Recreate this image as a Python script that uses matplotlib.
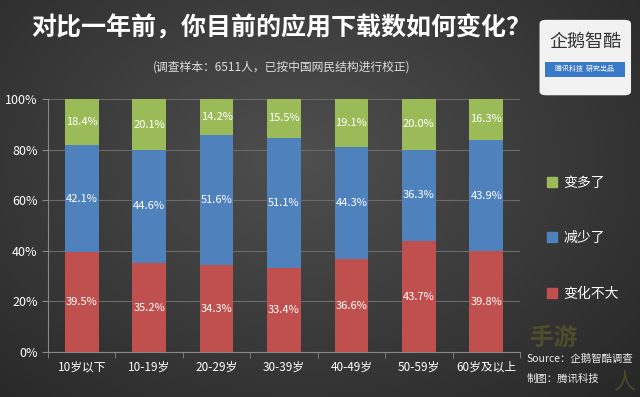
import numpy as np
import matplotlib.pyplot as plt
from matplotlib.patches import FancyBboxPatch, Rectangle

plt.rcParams['font.family'] = ['Noto Sans CJK SC', 'DejaVu Sans']

# Data
categories = ['10岁以下', '10-19岁', '20-29岁', '30-39岁', '40-49岁', '50-59岁', '60岁及以上']
no_change = [39.5, 35.2, 34.3, 33.4, 36.6, 43.7, 39.8]
less = [42.1, 44.6, 51.6, 51.1, 44.3, 36.3, 43.9]
more = [18.4, 20.1, 14.2, 15.5, 19.1, 20.0, 16.3]
series_names = ['变化不大', '减少了', '变多了']
colors = ['#C0504D', '#4F81BD', '#9BBB59']

fig = plt.figure(figsize=(6.4, 3.97), dpi=100)

# dark radial background
bg = fig.add_axes([0, 0, 1, 1], zorder=-10)
yy, xx = np.mgrid[0:397, 0:640]
r = np.sqrt(((xx - 300) / 420.0) ** 2 + ((yy - 160) / 300.0) ** 2)
shade = np.clip(0.31 - 0.14 * r, 0.14, 0.31)
bg.imshow(np.dstack([shade, shade, shade]), aspect='auto', extent=[0, 1, 0, 1])
bg.axis('off')

ax = fig.add_axes([0.075, 0.113, 0.7375, 0.638])
ax.set_facecolor('none')
x = np.arange(len(categories))
bottom = np.zeros(len(categories))
for vals, c in zip([no_change, less, more], colors):
    ax.bar(x, vals, bottom=bottom, width=0.5, color=c, zorder=3)
    for xi, b, v in zip(x, bottom, vals):
        ax.text(xi, b + v / 2, f'{v:.1f}%', ha='center', va='center',
                color='white', fontsize=8, zorder=4)
    bottom += np.array(vals)

ax.set_xlim(-0.5, len(categories) - 0.5)
ax.set_ylim(0, 100)
ax.set_yticks(np.arange(0, 101, 20))
ax.set_yticklabels([f'{v}%' for v in range(0, 101, 20)], color='white', fontsize=9)
ax.set_xticks(x)
ax.set_xticklabels(categories, color='white', fontsize=8.5)
ax.set_xticks(np.arange(-0.5, len(categories)), minor=True)
ax.tick_params(axis='x', which='major', length=0, pad=6)
ax.tick_params(axis='x', which='minor', length=4, color='#888888')
ax.tick_params(axis='y', length=4, color='#888888')
ax.grid(axis='y', color='#6a6a6a', linewidth=0.8, zorder=0)
for s in ['top', 'right']:
    ax.spines[s].set_visible(False)
for s in ['left', 'bottom']:
    ax.spines[s].set_color('#888888')

# legend
handles = [Rectangle((0, 0), 1, 1, color=c) for c in colors[::-1]]
fig.legend(handles, series_names[::-1], loc='center left',
           bbox_to_anchor=(0.835, 0.40), frameon=False, fontsize=10,
           labelcolor='white', labelspacing=3.0, handlelength=0.7,
           handleheight=0.7, handletextpad=0.5)

# titles
fig.text(0.44, 0.93, '对比一年前，你目前的应用下载数如何变化？', ha='center', va='center',
         color='white', fontsize=18, fontweight='heavy')
fig.text(0.44, 0.832, '(调查样本：6511人，已按中国网民结构进行校正)', ha='center',
         va='center', color='#dddddd', fontsize=8.5)

# logo box
logo = FancyBboxPatch((0.843, 0.76), 0.143, 0.19, boxstyle='round,pad=0,rounding_size=0.01',
                      transform=fig.transFigure, facecolor='#f2f2f2', edgecolor='none')
fig.patches.append(logo)
fig.text(0.914, 0.895, '企鹅智酷', ha='center', va='center', color='#333333', fontsize=13)
fig.patches.append(Rectangle((0.852, 0.805), 0.125, 0.04, transform=fig.transFigure,
                             facecolor='#3a78c8', edgecolor='none'))
fig.text(0.914, 0.825, '腾讯科技  研究出品', ha='center', va='center', color='white', fontsize=5)

# watermark and source
fig.text(0.865, 0.15, '手游', ha='center', va='center', color='#6b6b2a', fontsize=17,
         alpha=0.5, fontweight='bold')
fig.text(0.975, 0.035, '人', ha='center', va='center', color='#6b6b2a', fontsize=16, alpha=0.5)
fig.text(0.823, 0.095, 'Source：企鹅智酷调查', ha='left', va='center', color='#eeeeee',
         fontsize=7.5, style='italic')
fig.text(0.823, 0.047, '制图：腾讯科技', ha='left', va='center', color='#eeeeee',
         fontsize=7.5, style='italic')

fig.savefig('out.png', dpi=100)
